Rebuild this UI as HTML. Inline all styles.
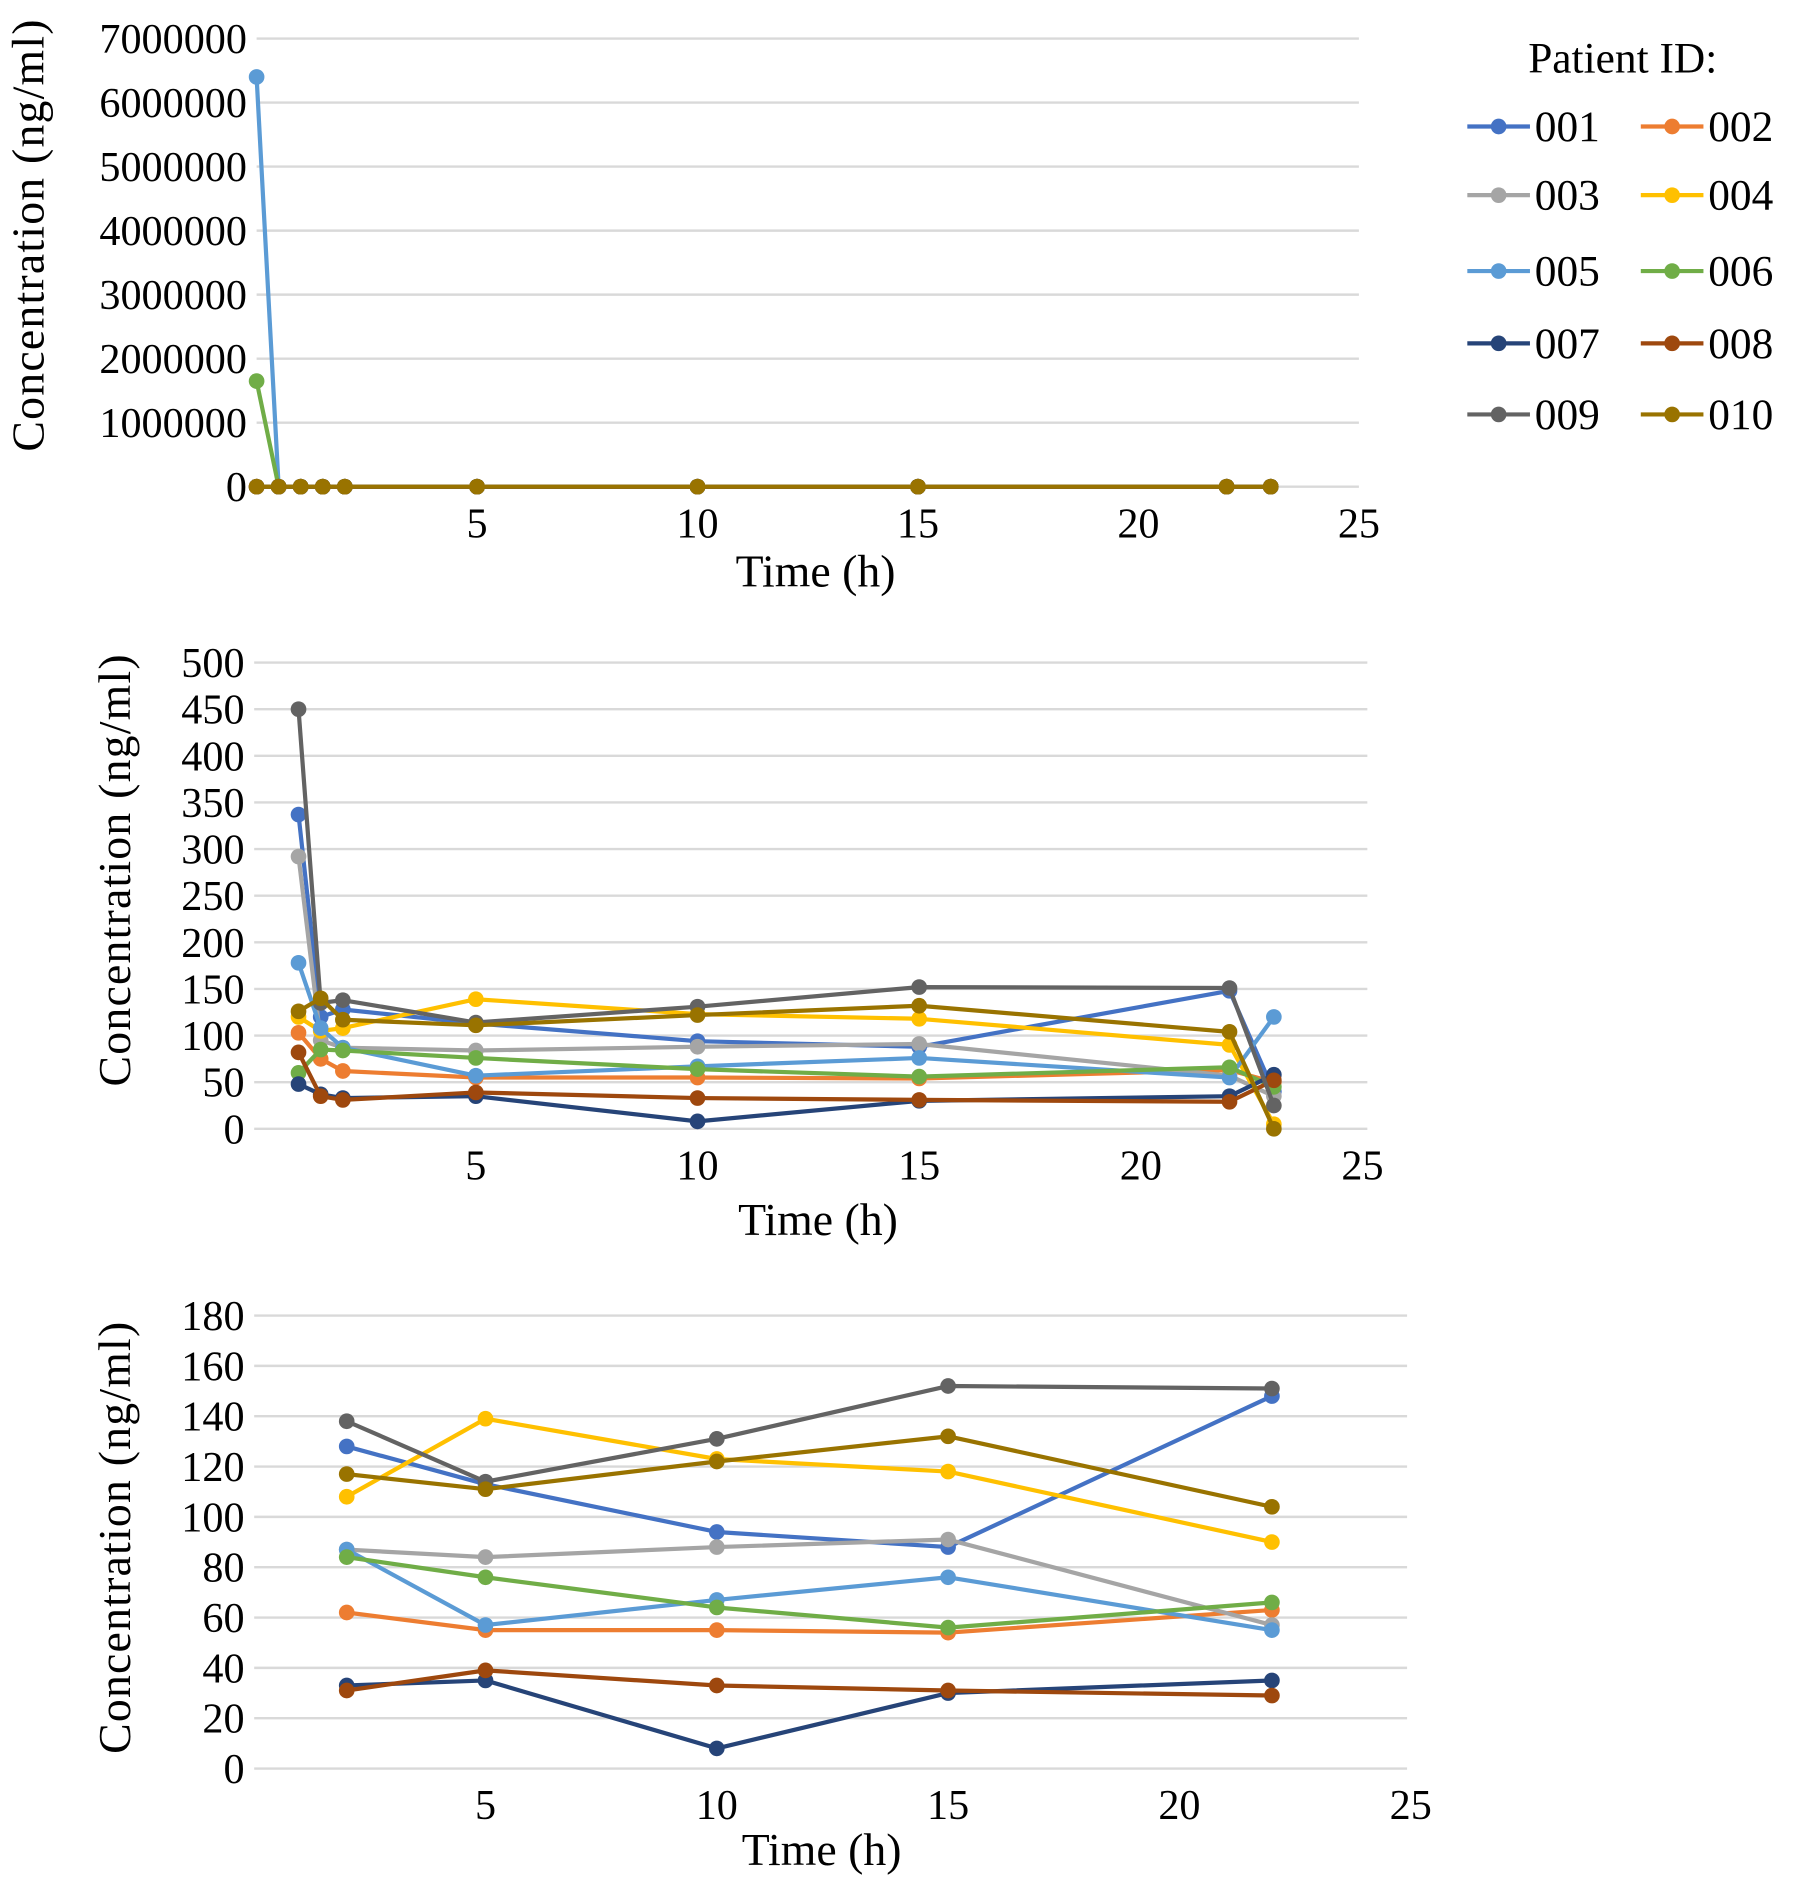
<!DOCTYPE html>
<html><head><meta charset="utf-8"><style>
html,body{margin:0;padding:0;background:#fff;}
svg{display:block;font-family:"Liberation Serif",serif;}
</style></head><body>
<svg id="fig" width="1795" height="1889" viewBox="0 0 1490 1568" preserveAspectRatio="none" xmlns="http://www.w3.org/2000/svg"></svg>
<script>
const ids=["001","002","003","004","005","006","007","008","009","010"];
const colors=["#4472C4","#ED7D31","#A5A5A5","#FFC000","#5B9BD5","#70AD47","#264478","#9E480E","#636363","#997300"];
// chart 1 (full time course)
const times1=[0,0.5,1,1.5,2,5,10,15,22,23];
const t0Values=[0,0,0,0,6400000,1650000,0,0,0,0];
// chart 2
const times2=[1,1.5,2,5,10,15,22,23];
const early1=[337,103,292,120,178,60,48,82,450,126];
const early15=[120,75,95,105,108,85,37,35,135,140];
const late23=[40,50,35,5,120,45,58,52,25,0];
// chart 3 (t = 2,5,10,15,22)
const times3=[2,5,10,15,22];
const s001=[128,113,94,88,148];
const s002=[62,55,55,54,63];
const s003=[87,84,88,91,57];
const s004=[108,139,123,118,90];
const s005=[87,57,67,76,55];
const s006=[84,76,64,56,66];
const s007=[33,35,8,30,35];
const s008=[31,39,33,31,29];
const s009=[138,114,131,152,151];
const s010=[117,111,122,132,104];
const mid=[s001,s002,s003,s004,s005,s006,s007,s008,s009,s010];
const xTicks=[5,10,15,20,25];
const yTicks1=[0,1000000,2000000,3000000,4000000,5000000,6000000,7000000];
const yTicks2=[0,50,100,150,200,250,300,350,400,450,500];
const yTicks3=[0,20,40,60,80,100,120,140,160,180];

const NS="http://www.w3.org/2000/svg";
const svg=document.getElementById('fig');
function el(tag,attrs,parent){const e=document.createElementNS(NS,tag);for(const k in attrs)e.setAttribute(k,attrs[k]);(parent||svg).appendChild(e);return e;}

function chart(cfg){
  const g=el('g',{});
  
  
  const X=t=>cfg.x0+t*cfg.xs, Y=v=>cfg.y0-(v-0)*(cfg.y0-cfg.yTop)/cfg.ymax;
  cfg.yTicks.forEach(v=>{
    const l=el('line',{x1:cfg.x0,x2:cfg.xr,y1:Y(v),y2:Y(v),stroke:'#d9d9d9','stroke-width':2},g);
    
    
    const t=el('text',{x:cfg.x0-8,y:Y(v)+12,'text-anchor':'end','font-size':35},g);
    t.textContent=String(v);
    
    
  });
  xTicks.forEach(v=>{
    const t=el('text',{x:X(v),y:cfg.y0+42,'text-anchor':'middle','font-size':35},g);
    t.textContent=String(v);
    
    
  });
  const xt=el('text',{x:cfg.xtx,y:cfg.xty,'text-anchor':'middle','font-size':38},g);
  xt.textContent='Time (h)';
  
  
  const yt=el('text',{x:0,y:0,'text-anchor':'middle','font-size':38,'letter-spacing':1,transform:`translate(${cfg.ytx},${cfg.yty}) rotate(-90)`},g);
  yt.textContent='Concentration (ng/ml)';
  
  
  ids.forEach((id,i)=>{
    const vals=cfg.series(i);
    const pts=cfg.times.map((t,j)=>[X(t),Y(vals[j])]);
    const pl=el('polyline',{points:pts.map(p=>p.join(',')).join(' '),fill:'none',stroke:colors[i],'stroke-width':3.5,'stroke-linejoin':'round'},g);
    
    
    pts.forEach(p=>{
      const c=el('circle',{cx:p[0],cy:p[1],r:6.5,fill:colors[i]},g);
      
      
    });
  });
}

chart({name:'chart-full',x0:213,xs:36.6,xr:1128,y0:404,yTop:32,ymax:7000000,yTicks:yTicks1,times:times1,
  series:i=>[t0Values[i],0,early1[i],early15[i]].concat(mid[i]).concat([late23[i]]),
  xtx:677,xty:487,ytx:36,yty:195});
chart({name:'chart-zoom-500',x0:211,xs:36.8,xr:1135,y0:937,yTop:550,ymax:500,yTicks:yTicks2,times:times2,
  series:i=>[early1[i],early15[i]].concat(mid[i]).concat([late23[i]]),
  xtx:679,xty:1025,ytx:108,yty:722});
chart({name:'chart-zoom-180',x0:211,xs:38.4,xr:1168,y0:1468,yTop:1092,ymax:180,yTicks:yTicks3,times:times3,
  series:i=>mid[i],
  xtx:682,xty:1548,ytx:108,yty:1276});

// legend
const lg=el('g',{});


const lt=el('text',{x:1347,y:60,'text-anchor':'middle','font-size':36},lg);
lt.textContent='Patient ID:';


const rows=[105,162,225,285,344];
ids.forEach((id,i)=>{
  const r=rows[Math.floor(i/2)], col=i%2, lx=col?1362:1218;
  const e=el('g',{},lg);
  
  
  el('line',{x1:lx,x2:lx+52,y1:r,y2:r,stroke:colors[i],'stroke-width':3.5},e);
  el('circle',{cx:lx+26,cy:r,r:6.5,fill:colors[i]},e);
  const t=el('text',{x:lx+56,y:r+12,'font-size':36},e);
  t.textContent=id;
});
</script>
</body></html>
